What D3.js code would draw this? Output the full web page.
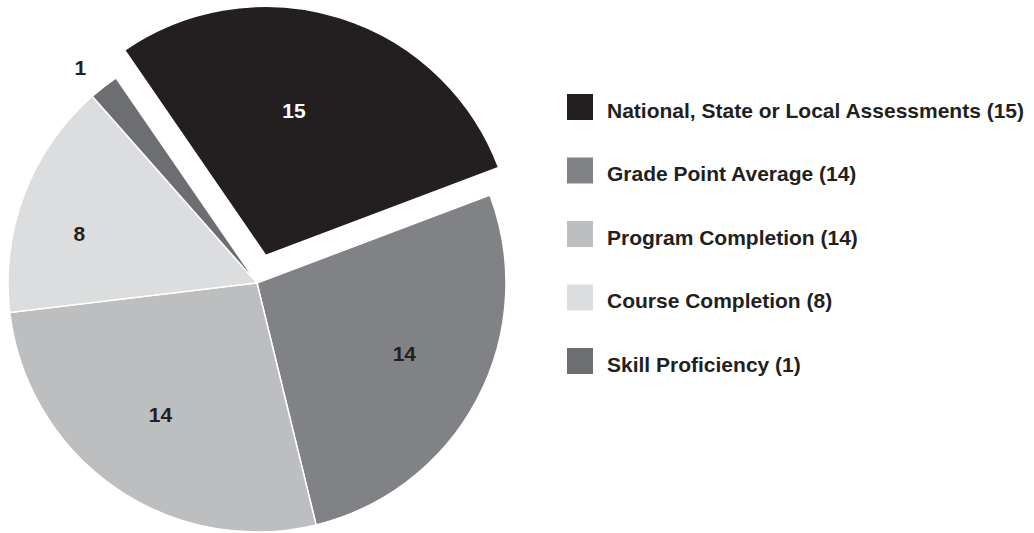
<!DOCTYPE html>
<html>
<head>
<meta charset="utf-8">
<script src="https://cdn.jsdelivr.net/npm/d3@7"></script>
<style>
  body { margin: 0; background: #fff; }
  text { font-family: "Liberation Sans", Arial, sans-serif; font-weight: bold; }
</style>
</head>
<body>
<div id="chart"></div>
<script>
const categories = ['National, State or Local Assessments', 'Grade Point Average', 'Program Completion', 'Course Completion', 'Skill Proficiency'];
const values = [15, 14, 14, 8, 1];
const colors = ['#231f20', '#808285', '#bcbec0', '#dcdddf', '#6d6e71'];
// small hand nudges so the value labels sit where the original put them
const labelNudge = [[-21, 12], [2, -6], [-3, -3], [-24, 9], [-5, 5]];

const width = 1034, height = 533;
const cx = 257, cy = 283, radius = 249;

const svg = d3.select('#chart')
    .append('svg')
    .attr('width', width)
    .attr('height', height);

const pie = d3.pie()
    .sort(null)
    .value(d => d)
    .startAngle(-34.5 * Math.PI / 180)
    .endAngle(325.5 * Math.PI / 180);

const arcs = pie(values);
const arc = d3.arc().innerRadius(0).outerRadius(radius);
const labelArc = d3.arc().innerRadius(radius * 0.66).outerRadius(radius * 0.66);
const outerLabelArc = d3.arc().innerRadius(radius * 1.12).outerRadius(radius * 1.12);

const g = svg.append('g')
    .attr('transform', `translate(${cx},${cy})`);

// explode the first slice
function offset(d, i) {
    if (i !== 0) return [0, 0];
    const a = (d.startAngle + d.endAngle) / 2;
    return [Math.sin(a) * 29, -Math.cos(a) * 29];
}

g.selectAll('.slice')
    .data(arcs)
    .enter()
    .append('path')
    .attr('class', 'slice')
    .attr('d', arc)
    .attr('transform', (d, i) => `translate(${offset(d, i)})`)
    .attr('fill', (d, i) => colors[i])
    .attr('stroke', '#fff')
    .attr('stroke-width', 1.5);

g.selectAll('.label')
    .data(arcs)
    .enter()
    .append('text')
    .attr('class', 'label')
    .attr('transform', (d, i) => {
        const c = (d.value < 3 ? outerLabelArc : labelArc).centroid(d);
        const o = offset(d, i);
        const n = labelNudge[i];
        return `translate(${c[0] + o[0] + n[0]},${c[1] + o[1] + n[1]})`;
    })
    .attr('text-anchor', 'middle')
    .attr('dy', '0.35em')
    .attr('font-size', 21)
    .attr('fill', (d, i) => i === 0 ? '#fff' : '#231f20')
    .text(d => d.value);

// legend
const legend = svg.append('g')
    .attr('transform', 'translate(567,94)');

const item = legend.selectAll('.item')
    .data(categories)
    .enter()
    .append('g')
    .attr('class', 'item')
    .attr('transform', (d, i) => `translate(0,${i * 63.5})`);

item.append('rect')
    .attr('width', 26)
    .attr('height', 26)
    .attr('fill', (d, i) => colors[i]);

item.append('text')
    .attr('x', 40)
    .attr('y', 23.5)
    .attr('font-size', 21)
    .attr('fill', '#231f20')
    .text((d, i) => `${d} (${values[i]})`);
</script>
</body>
</html>
